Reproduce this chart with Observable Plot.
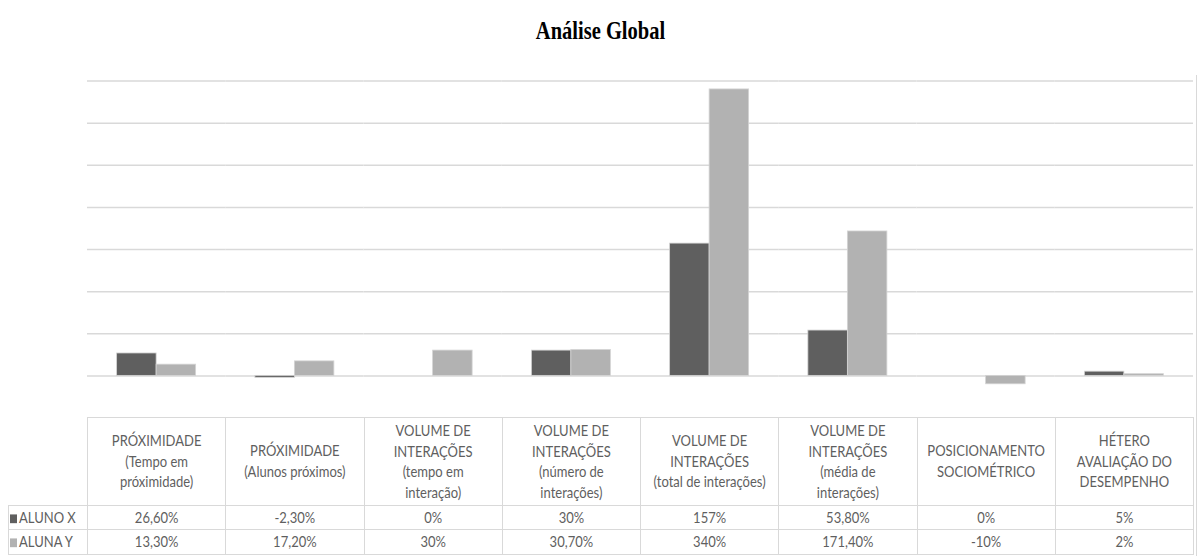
<!DOCTYPE html>
<html>
<head>
<meta charset="utf-8">
<script src="https://cdn.jsdelivr.net/npm/d3@7"></script>
<script src="https://cdn.jsdelivr.net/npm/@observablehq/plot@0.6"></script>
<style>
  html, body { margin: 0; padding: 0; background: #fff; }
  #page { position: relative; width: 1201px; height: 556px; overflow: hidden; background: #fff; }
  #title {
    position: absolute; left: 0; top: 2px; width: 1201px; height: 60px;
    display: flex; align-items: center; justify-content: center;
    font-family: "Liberation Serif", "Times New Roman", serif; font-weight: bold; font-size: 20.5px; color: #000;
  }
  #title span { display: inline-block; transform: scaleY(1.22); margin-top: -2px; }
  #chart { position: absolute; left: 0; top: 60px; }
  #frame { position: absolute; left: 1196px; top: 75px; width: 0; height: 490px; border-left: 1.5px solid #d9d9d9; }
  #table {
    position: absolute; left: 8px; top: 416.5px; width: 1185px;
    border-collapse: collapse; table-layout: fixed;
    font-family: Lato, "Open Sans", sans-serif; font-size: 13px; color: #5f5f5f;
  }
  #table td { border: 1.5px solid #d9d9d9; padding: 0; text-align: center; vertical-align: middle; white-space: nowrap; }
  #table tr.head td { height: 87px; }
  #table tr.data td { height: 23.5px; }
  #table td.corner { border-top: none; border-left: none; }
  #table td.label { text-align: left; padding-left: 1px; }
  .txt { display: inline-block; transform: scaleY(1.25); line-height: 16.6px; }
  .key { display: inline-block; width: 7px; height: 7px; margin-right: 2px; vertical-align: 0px; }
</style>
</head>
<body>
<div id="page">
  <div id="title"><span>Análise Global</span></div>
  <div id="chart"></div>
  <div id="frame"></div>
  <table id="table"></table>
</div>
<script>
// Indicators (one per column), line breaks as they appear in the table header
const categories = [
  "PRÓXIMIDADE\n(Tempo em\npróximidade)",
  "PRÓXIMIDADE\n(Alunos próximos)",
  "VOLUME DE\nINTERAÇÕES\n(tempo em\ninteração)",
  "VOLUME DE\nINTERAÇÕES\n(número de\ninterações)",
  "VOLUME DE\nINTERAÇÕES\n(total de interações)",
  "VOLUME DE\nINTERAÇÕES\n(média de\ninterações)",
  "POSICIONAMENTO\nSOCIOMÉTRICO",
  "HÉTERO\nAVALIAÇÃO DO\nDESEMPENHO"
];

const seriesNames = ["ALUNO X", "ALUNA Y"];
const seriesColors = ["#5f5f5f", "#b2b2b2"];

// Percent variation per indicator
const alunoX = [26.6, -2.3, 0, 30, 157, 53.8, 0, 5];
const alunaY = [13.3, 17.2, 30, 30.7, 340, 171.4, -10, 2];

// Horizontal gridlines
const gridTicks = [0, 50, 100, 150, 200, 250, 300, 350];

const seriesValues = [alunoX, alunaY];

const rows = categories.flatMap((category, i) =>
  seriesNames.map((series, s) => ({category, series, value: seriesValues[s][i]}))
);

const chart = Plot.plot({
  width: 1201,
  height: 358,
  marginLeft: 87,
  marginRight: 8,
  marginTop: 20.5,
  marginBottom: 0.5,
  facet: {data: rows, x: "category"},
  fx: {domain: categories, padding: 0, axis: null, round: false},
  x: {domain: seriesNames, paddingInner: 0, paddingOuter: 0.75, axis: null, round: false},
  y: {domain: [-50, 350], axis: null},
  color: {domain: seriesNames, range: seriesColors},
  marks: [
    Plot.ruleY(gridTicks, {stroke: "#d9d9d9", strokeWidth: 1.5}),
    Plot.barY(rows, {x: "series", y: "value", fill: "series", stroke: "#d4d4d4", strokeWidth: 0.8})
  ]
});
document.getElementById("chart").appendChild(chart);

// Data table under the bars
const fmt = v => (Number.isInteger(v) ? String(v) : v.toFixed(2).replace(".", ",")) + "%";

const table = d3.select("#table");
const colgroup = table.append("colgroup");
colgroup.append("col").style("width", "79px");
categories.forEach(() => colgroup.append("col").style("width", "138.25px"));

const head = table.append("tr").attr("class", "head");
head.append("td").attr("class", "corner");
categories.forEach(c => {
  head.append("td").append("span").attr("class", "txt").html(c.split("\n").join("<br>"));
});

seriesNames.forEach((name, s) => {
  const tr = table.append("tr").attr("class", "data");
  const lab = tr.append("td").attr("class", "label").append("span").attr("class", "txt");
  lab.append("span").attr("class", "key").style("background", seriesColors[s]);
  lab.append("span").text(name);
  seriesValues[s].forEach(v => tr.append("td").append("span").attr("class", "txt").text(fmt(v)));
});
</script>
</body>
</html>
